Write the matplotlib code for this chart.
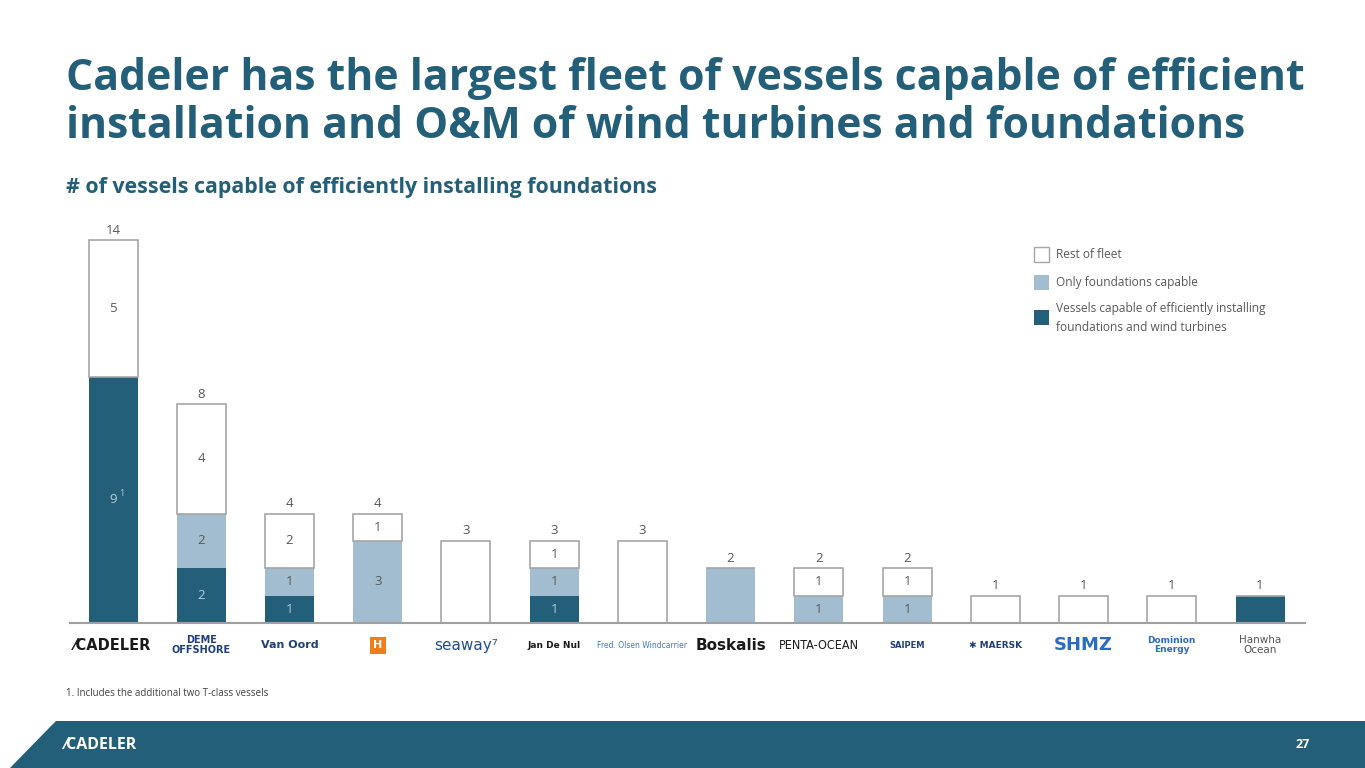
import matplotlib
matplotlib.use("Agg")
import matplotlib.pyplot as plt
from matplotlib.patches import Rectangle, Polygon
import numpy as np

# ---- data ----
companies = ["CADELER", "DEME", "Van Oord", "Heerema", "seaway7", "Jan De Nul",
             "Fred. Olsen Windcarrier", "Boskalis", "PENTA-OCEAN", "SAIPEM",
             "MAERSK", "SHMZ", "Dominion Energy", "Hanwha Ocean"]
logo_texts = ["⁄CADELER", "DEME\nOFFSHORE", "Van Oord", "H", "seaway⁷", "Jan De Nul",
              "Fred. Olsen Windcarrier", "Boskalis", "PENTA-OCEAN", "SAIPEM",
              "✱ MAERSK", "SHMZ", "Dominion\nEnergy", "Hanwha\nOcean"]
both_capable = [9, 2, 1, 0, 0, 1, 0, 0, 0, 0, 0, 0, 0, 1]
only_foundations = [0, 2, 1, 3, 0, 1, 0, 2, 1, 1, 0, 0, 0, 0]
rest_of_fleet = [5, 4, 2, 1, 3, 1, 3, 0, 1, 1, 1, 1, 1, 0]
series_names = ["Vessels capable of efficiently installing\nfoundations and wind turbines",
                "Only foundations capable", "Rest of fleet"]

DARK = "#235F78"
LIGHT = "#A2BDCF"
EDGE = "#A6A6A6"
TXT = "#595959"

W, H = 1365, 768
fig = plt.figure(figsize=(W / 100, H / 100), dpi=100)
fig.patch.set_facecolor("white")

def fx(px):
    return px / W

def fy(py):
    return 1 - py / H

# axes placement
ax_left, ax_right, ax_bottom, ax_top = 70, 1305, 623, 200
ax = fig.add_axes([fx(ax_left), fy(ax_bottom), fx(ax_right - ax_left), (ax_bottom - ax_top) / H])
unit_px = (623 - 240) / 14.0
ax.set_ylim(0, (ax_bottom - ax_top) / unit_px)
spacing = (1260 - 113) / 13.0
ax.set_xlim(-(113 - ax_left) / spacing, 13 + (ax_right - 1260) / spacing)

x = np.arange(len(companies))
bw = 49 / spacing
b = np.array(both_capable)
l = np.array(only_foundations)
r = np.array(rest_of_fleet)

ax.bar(x, b, bw, color=DARK, linewidth=0)
ax.bar(x, l, bw, bottom=b, color=LIGHT, linewidth=0)
ax.bar(x, r, bw, bottom=b + l, color="white", edgecolor=EDGE, linewidth=1.2)

tot = b + l + r
fs = 9.5
for i in range(len(x)):
    ax.text(x[i], tot[i] + 10 / unit_px, str(tot[i]), ha="center", va="center", fontsize=fs,
            color=TXT, family="Open Sans")
    nseg = int(b[i] > 0) + int(l[i] > 0) + int(r[i] > 0)
    if nseg > 1:
        if b[i] > 0:
            ax.text(x[i], b[i] / 2, str(b[i]), ha="center", va="center", fontsize=fs,
                    color="#B9CDD8", family="Open Sans")
            if i == 0:
                ax.text(x[i] + 0.07, b[i] / 2 + 0.25, "1", ha="left", va="center",
                        fontsize=6.5, color="#B9CDD8", family="Open Sans")
        if l[i] > 0:
            ax.text(x[i], b[i] + l[i] / 2, str(l[i]), ha="center", va="center",
                    fontsize=fs, color=TXT, family="Open Sans")
        if r[i] > 0:
            ax.text(x[i], b[i] + l[i] + r[i] / 2, str(r[i]), ha="center", va="center",
                    fontsize=fs, color=TXT, family="Open Sans")

for s in ["top", "right", "left"]:
    ax.spines[s].set_visible(False)
ax.spines["bottom"].set_color("#A0A0A0")
ax.spines["bottom"].set_linewidth(1.5)
ax.set_yticks([])
ax.set_xticks(x)
ax.set_xticklabels(logo_texts)
ax.tick_params(axis="x", length=0, pad=16)

logo_styles = [
    dict(color="#1A1A1A", fontweight="bold", fontsize=10.5),
    dict(color="#1F3F7A", fontweight="bold", fontsize=7),
    dict(color="#1F3F7A", fontweight="bold", fontsize=8),
    dict(color="white", fontweight="bold", fontsize=8,
         bbox=dict(boxstyle="square,pad=0.3", fc="#F07D1A", ec="none")),
    dict(color="#1F4E8C", fontweight="normal", fontsize=11),
    dict(color="#1A1A1A", fontweight="bold", fontsize=6.5),
    dict(color="#3B7DC4", fontweight="normal", fontsize=5.5),
    dict(color="#1A1A1A", fontweight="bold", fontsize=11),
    dict(color="#1A1A1A", fontweight="normal", fontsize=9, fontstretch="condensed"),
    dict(color="#1F3F7A", fontweight="bold", fontsize=6),
    dict(color="#1F3F7A", fontweight="bold", fontsize=6.5),
    dict(color="#2C6BC2", fontweight="bold", fontsize=13),
    dict(color="#2C6BC2", fontweight="bold", fontsize=6.5),
    dict(color="#555555", fontweight="normal", fontsize=7.5),
]
for tl, st in zip(ax.get_xticklabels(), logo_styles):
    tl.set_family(["DejaVu Sans"])
    tl.set_color(st["color"])
    tl.set_fontweight(st["fontweight"])
    tl.set_fontsize(st["fontsize"])
    if "fontstretch" in st:
        tl.set_fontstretch(st["fontstretch"])
    if "bbox" in st:
        tl.set_bbox(st["bbox"])
    tl.set_va("center")
    tl.set_linespacing(1.0)

# ---- titles ----
TITLE = "#235F78"
fig.text(fx(66), fy(78), "Cadeler has the largest fleet of vessels capable of efficient",
         fontsize=30.8, fontweight="bold", color=TITLE, family="Open Sans", va="center")
fig.text(fx(66), fy(127), "installation and O&M of wind turbines and foundations",
         fontsize=30.8, fontweight="bold", color=TITLE, family="Open Sans", va="center")
fig.text(fx(66), fy(188), "# of vessels capable of efficiently installing foundations",
         fontsize=15.4, fontweight="bold", color=TITLE, family="Open Sans", va="center")

# ---- legend ----
leg_items = [(255, "white", series_names[2]), (283, LIGHT, series_names[1]),
             (318, DARK, series_names[0])]
for yc, col, name in leg_items:
    fig.patches.append(Rectangle((fx(1034), fy(yc + 7)), fx(15), 15 / H, transform=fig.transFigure,
                                 facecolor=col, edgecolor=EDGE if col == "white" else "none",
                                 linewidth=1))
    fig.text(fx(1056), fy(yc), name, fontsize=8.6, color=TXT, family="Open Sans",
             va="center", ha="left", linespacing=1.55)

# ---- footnote ----
fig.text(fx(66), fy(693), "1. Includes the additional two T-class vessels", fontsize=7,
         color="#404040", family="Open Sans", va="center")

# ---- bottom band ----
band = Polygon([(fx(10), 0), (fx(50), fy(727)), (fx(56), fy(721)), (1, fy(721)), (1, 0)],
               closed=True, transform=fig.transFigure, facecolor=DARK, edgecolor="none")
fig.patches.append(band)
fig.text(fx(64), fy(745), "⁄CADELER", fontsize=11.5, fontweight="bold", color="white",
         family=["Open Sans", "DejaVu Sans"], va="center")
fig.text(fx(1310), fy(745), "27", fontsize=9, fontweight="bold", color="white",
         family="Open Sans", va="center", ha="right")

fig.savefig("out.png", dpi=100)
